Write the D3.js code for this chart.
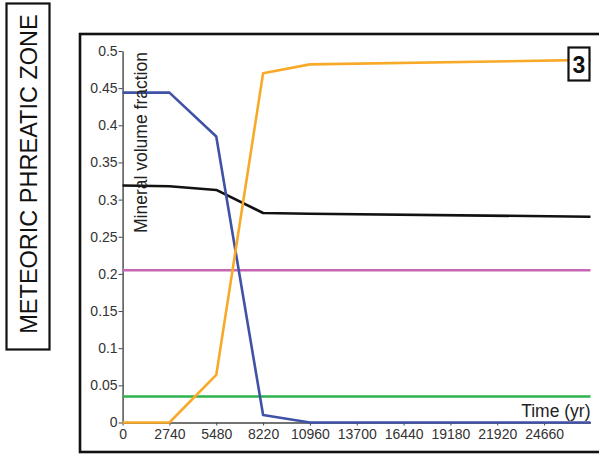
<!DOCTYPE html>
<html>
<head>
<meta charset="utf-8">
<script src="https://cdn.jsdelivr.net/npm/d3@7"></script>
<style>
  html, body { margin: 0; padding: 0; background: #fff; }
  svg { display: block; font-family: Arial, "Liberation Sans", sans-serif; }
</style>
</head>
<body>
<svg id="chart" width="599" height="457"></svg>
<script>
// Simulation times (yr) at which mineral fractions are reported
const times = [0, 2740, 5480, 8220, 10960, 27375];
const xTicks = [0, 2740, 5480, 8220, 10960, 13700, 16440, 19180, 21920, 24660];
const yTicks = [0, 0.05, 0.1, 0.15, 0.2, 0.25, 0.3, 0.35, 0.4, 0.45, 0.5];

// Mineral volume fractions through time
const blueSeries    = [0.444, 0.444, 0.385, 0.010, 0.000, 0.000];
const orangeSeries  = [0.000, 0.000, 0.064, 0.470, 0.482, 0.488];
const blackSeries   = [0.319, 0.318, 0.313, 0.282, 0.281, 0.277];
const magentaSeries = [0.205, 0.205, 0.205, 0.205, 0.205, 0.205];
const greenSeries   = [0.035, 0.035, 0.035, 0.035, 0.035, 0.035];

const series = [
  { values: magentaSeries, color: "#c766b3" },
  { values: greenSeries,   color: "#2fb24c" },
  { values: blackSeries,   color: "#111111" },
  { values: blueSeries,    color: "#3f52a6" },
  { values: orangeSeries,  color: "#f8a928" }
];

const svg = d3.select("#chart");

// Side label box
svg.append("rect")
  .attr("x", 6.5).attr("y", 3.5).attr("width", 43).attr("height", 346)
  .attr("fill", "none").attr("stroke", "#111").attr("stroke-width", 2.2);
svg.append("text")
  .attr("transform", "translate(36.5,174) rotate(-90)")
  .attr("text-anchor", "middle")
  .attr("font-size", 23.5)
  .attr("fill", "#111")
  .text("METEORIC PHREATIC ZONE");

// Chart frame
svg.append("rect")
  .attr("x", 80).attr("y", 34).attr("width", 530).attr("height", 418)
  .attr("fill", "none").attr("stroke", "#111").attr("stroke-width", 2.6);

const x = d3.scaleLinear().domain([0, 27375]).range([122.6, 590.5]);
const y = d3.scaleLinear().domain([0, 0.5]).range([422.5, 51]);

// Axes
const xAxis = svg.append("g")
  .attr("transform", `translate(0,${y(0)})`)
  .call(d3.axisBottom(x).tickValues(xTicks).tickSize(3).tickSizeOuter(0).tickFormat(d3.format("d")));
const yAxis = svg.append("g")
  .attr("transform", `translate(${x(0)},0)`)
  .call(d3.axisLeft(y).tickValues(yTicks).tickSize(4).tickSizeOuter(0).tickFormat(d => d === 0 ? "0" : String(d)));

[xAxis, yAxis].forEach(g => {
  g.attr("font-size", 14).attr("font-family", "Arial, 'Liberation Sans', sans-serif");
  g.select(".domain").attr("stroke", "#444").attr("stroke-width", 1.4);
  g.selectAll(".tick line").attr("stroke", "#444").attr("stroke-width", 1);
  g.selectAll(".tick text").attr("fill", "#333");
});
xAxis.selectAll(".tick text").attr("y", 5).attr("dy", "0.8em");
yAxis.selectAll(".tick text").attr("x", -5);

// Series lines
const line = d3.line()
  .x((d, i) => x(times[i]))
  .y(d => y(d));

svg.append("g").selectAll("path")
  .data(series)
  .join("path")
  .attr("d", s => line(s.values))
  .attr("fill", "none")
  .attr("stroke", s => s.color)
  .attr("stroke-width", 2.6)
  .attr("stroke-linejoin", "round");

// Axis titles
svg.append("text")
  .attr("transform", `translate(146.5,233) rotate(-90)`)
  .attr("text-anchor", "start")
  .attr("font-size", 17.5)
  .attr("fill", "#222")
  .text("Mineral volume fraction");

svg.append("text")
  .attr("x", 590.5).attr("y", 417)
  .attr("text-anchor", "end")
  .attr("font-size", 17.5)
  .attr("fill", "#222")
  .text("Time (yr)");

// Panel number badge
svg.append("rect")
  .attr("x", 568.5).attr("y", 47.5).attr("width", 21).attr("height", 33)
  .attr("fill", "#fff").attr("stroke", "#111").attr("stroke-width", 2.2);
svg.append("text")
  .attr("x", 579).attr("y", 73)
  .attr("text-anchor", "middle")
  .attr("font-size", 23)
  .attr("font-weight", "bold")
  .attr("fill", "#111")
  .text("3");
</script>
</body>
</html>
